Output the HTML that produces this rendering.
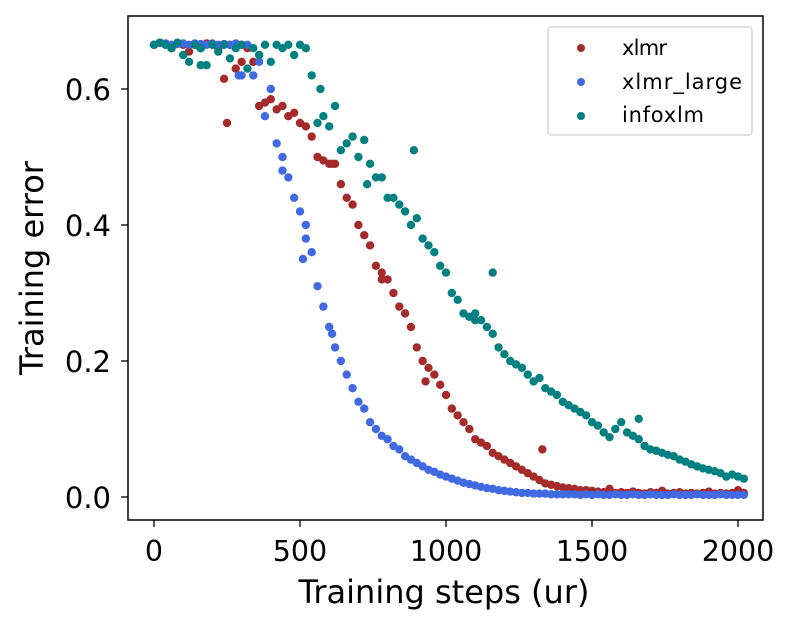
<!DOCTYPE html>
<html><head><meta charset="utf-8"><style>
html,body{margin:0;padding:0;background:#fff;}
svg{display:block;font-family:"DejaVu Sans","Liberation Sans",sans-serif;}
</style></head><body>
<svg id="chart" width="788" height="628" viewBox="0 0 788 628" xmlns="http://www.w3.org/2000/svg">
<g id="marks"></g>
<rect x="128" y="16" width="635" height="504" fill="none" stroke="#000" stroke-width="1.5"/>
<g id="xticks"></g>
<g id="yticks"></g>
<text x="444" y="603" font-size="32" text-anchor="middle">Training steps (ur)</text>
<text transform="translate(43,268) rotate(-90)" font-size="32" text-anchor="middle">Training error</text>
<g>
<rect x="548" y="27" width="204" height="108" rx="3" fill="#fff" stroke="#ccc" stroke-width="1.2"/>
<circle cx="581" cy="48" r="4" fill="#a52a2a"/>
<text x="622" y="55" font-size="21" textLength="45">xlmr</text>
<circle cx="581" cy="82" r="4" fill="#4169e1"/>
<text x="622" y="89" font-size="21" textLength="120">xlmr_large</text>
<circle cx="581" cy="116" r="4" fill="#008080"/>
<text x="622" y="122" font-size="21" textLength="82">infoxlm</text>
</g>
</svg>
<script>
const stepSize = 20;
const xTicks = [0, 500, 1000, 1500, 2000];
const yTicks = [0.0, 0.2, 0.4, 0.6];
const yTickLabels = ["0.0", "0.2", "0.4", "0.6"];
const xlmrValues = [0.665,0.668,0.665,0.66,0.667,0.665,0.655,0.665,0.66,0.667,0.665,0.66,0.615,0.665,0.63,0.665,0.66,0.64,
0.575,0.58,0.585,0.57,0.575,0.56,0.565,0.55,0.545,0.53,0.50,0.495,0.49,0.49,0.46,0.44,0.43,0.40,0.385,0.37,0.34,0.33,0.32,0.30,0.28,0.27,0.25,0.22,0.20,0.19,0.18,0.165,0.15,0.13,0.12,0.11,0.10,0.085,0.08,0.075,0.065,0.06,0.055,0.05,0.045,0.04,0.035,0.03,0.025,0.02,0.018,0.016,0.014,0.013,0.012,0.01,0.01,0.009,
0.008,0.007,0.012,0.006,0.007,0.006,0.008,0.006,0.005,0.007,0.006,0.009,0.005,0.006,0.007,0.005,0.006,0.005,0.006,0.008,0.005,0.006,0.005,0.006,0.01,0.006];
const xlmrLargeValues = [0.665,0.668,0.667,0.665,0.666,0.667,0.665,0.667,0.666,0.665,0.667,0.665,0.666,0.665,0.667,0.62,0.665,
0.62,0.64,0.56,0.60,0.52,0.50,0.47,0.44,0.42,0.40,0.36,0.31,0.28,0.25,0.22,0.20,0.18,0.16,0.14,0.13,0.11,0.10,0.09,0.085,0.075,0.07,0.06,0.055,0.05,0.045,0.04,0.037,0.033,0.03,0.027,0.024,0.021,0.019,0.017,0.015,0.013,0.012,0.01,0.009,0.008,0.007,
0.006,0.006,0.005,0.005,0.005,0.004,0.004,0.004,0.004,0.004,0.003,0.004,0.003,0.004,0.003,0.003,0.004,0.003,0.003,0.004,0.003,0.003,0.004,0.003,0.003,0.003,0.004,0.003,0.003,0.003,0.004,0.003,0.003,0.003,0.004,0.003,0.003,0.003,0.003];
const infoxlmValues = [0.665,0.668,0.665,0.66,0.668,0.65,0.64,0.665,0.66,0.635,0.665,0.655,0.665,0.645,0.66,0.665,0.63,0.66,0.65,0.665,0.64,0.665,0.66,0.665,0.65,0.665,0.66,0.62,
0.55,0.56,0.545,0.575,0.51,0.52,0.53,0.50,0.525,0.49,0.47,0.47,0.44,0.44,0.43,0.42,0.40,0.41,0.38,0.37,0.36,0.34,0.33,0.30,0.29,0.27,0.265,0.27,0.26,0.25,0.24,0.22,0.21,0.20,0.195,0.19,0.18,0.17,0.175,0.16,0.155,0.15,0.14,0.135,0.13,0.125,0.12,0.11,0.105,0.095,0.088,0.10,0.11,0.095,0.09,0.085,0.075,0.07,0.068,0.065,0.062,0.06,0.055,0.052,0.048,0.045,0.042,0.04,0.038,0.035,0.03,0.033,0.03,0.027];
const xlmrExtraSteps = [250, 1330, 300, 930, 610, 780];
const xlmrExtraValues = [0.55, 0.07, 0.64, 0.17, 0.49, 0.32];
const xlmrLargeExtraSteps = [290, 440, 520, 510, 610];
const xlmrLargeExtraValues = [0.62, 0.48, 0.38, 0.35, 0.24];
const infoxlmExtraSteps = [890, 1160, 1660, 570, 160, 730, 1100];
const infoxlmExtraValues = [0.51, 0.33, 0.115, 0.60, 0.635, 0.46, 0.26];

const NS = "http://www.w3.org/2000/svg";
function sx(v){ return 154 + v * (584/2000); }
function sy(v){ return 497 - v * (408/0.6); }
const marks = document.getElementById('marks');
function drawSeries(name, vals, exSteps, exVals, color){
  const g = document.createElementNS(NS,'g');
  
  
  const pts = vals.map((v,i)=>[i*stepSize, v]).concat(exSteps.map((s,i)=>[s, exVals[i]]));
  pts.forEach(p=>{
    const c = document.createElementNS(NS,'circle');
    c.setAttribute('cx', sx(p[0])); c.setAttribute('cy', sy(p[1]));
    c.setAttribute('r', 4.2); c.setAttribute('fill', color);
    
    
    g.appendChild(c);
  });
  marks.appendChild(g);
}
drawSeries('xlmr', xlmrValues, xlmrExtraSteps, xlmrExtraValues, '#a52a2a');
drawSeries('xlmr-large', xlmrLargeValues, xlmrLargeExtraSteps, xlmrLargeExtraValues, '#4169e1');
drawSeries('infoxlm', infoxlmValues, infoxlmExtraSteps, infoxlmExtraValues, '#008080');

const xg = document.getElementById('xticks');
xTicks.forEach(t=>{
  const l = document.createElementNS(NS,'line');
  l.setAttribute('x1', sx(t)); l.setAttribute('x2', sx(t));
  l.setAttribute('y1', 520); l.setAttribute('y2', 527);
  l.setAttribute('stroke', '#000');
  l.setAttribute('stroke-width', 1.3);
  
  
  xg.appendChild(l);
  const tx = document.createElementNS(NS,'text');
  tx.setAttribute('x', sx(t)); tx.setAttribute('y', 561);
  tx.setAttribute('font-size', 28.5); tx.setAttribute('text-anchor', 'middle');
  
  
  tx.textContent = String(t);
  xg.appendChild(tx);
});
const yg = document.getElementById('yticks');
yTicks.forEach((t,i)=>{
  const l = document.createElementNS(NS,'line');
  l.setAttribute('x1', 121); l.setAttribute('x2', 128);
  l.setAttribute('y1', sy(t)); l.setAttribute('y2', sy(t));
  l.setAttribute('stroke', '#000');
  l.setAttribute('stroke-width', 1.3);
  
  
  yg.appendChild(l);
  const tx = document.createElementNS(NS,'text');
  tx.setAttribute('x', 111); tx.setAttribute('y', sy(t) + 11);
  tx.setAttribute('font-size', 29); tx.setAttribute('text-anchor', 'end');
  
  
  tx.textContent = yTickLabels[i];
  yg.appendChild(tx);
});
</script>
</body></html>
